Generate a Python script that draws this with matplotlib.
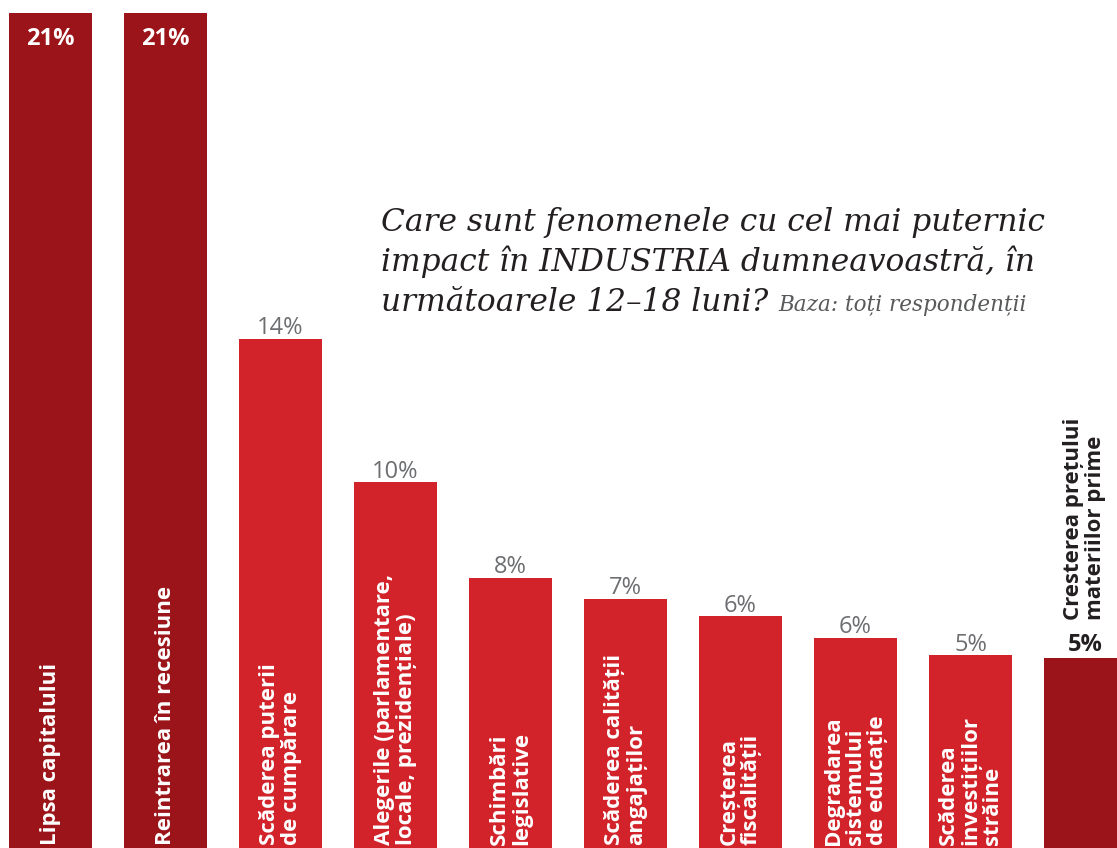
import matplotlib
matplotlib.use('Agg')
import matplotlib.pyplot as plt

# categories (bar labels), shown percentages, bar heights
labels = ['Lipsa capitalului',
          'Reintrarea în recesiune',
          'Scăderea puterii\nde cumpărare',
          'Alegerile (parlamentare,\nlocale, prezidențiale)',
          'Schimbări\nlegislative',
          'Scăderea calității\nangajaților',
          'Creșterea\nfiscalității',
          'Degradarea\nsistemului\nde educație',
          'Scăderea\ninvestițiilor\nstrăine',
          'Cresterea prețului\nmateriilor prime']
shares = [21, 21, 14, 10, 8, 7, 6, 6, 5, 5]
heights = [21, 21, 12.8, 9.2, 6.8, 6.26, 5.83, 5.28, 4.85, 4.78]
dark = [True, True, False, False, False, False, False, False, False, True]

DARK_RED = '#9b1419'
RED = '#d2232a'
GREY = '#6d6e71'
INK = '#231f20'

fig = plt.figure(figsize=(11.17, 8.48), dpi=100)
ax = fig.add_axes([0, 0, 1, 1])
ax.set_xlim(-0.439, 9.274)
ax.set_ylim(0, 21 * 848 / 835)
ax.axis('off')

x = list(range(len(shares)))
cols = [DARK_RED if d else RED for d in dark]
ax.bar(x, heights, width=0.72, color=cols, align='center')

for i in x:
    # category label inside the bar, reading bottom to top
    if i == 9:
        ax.annotate(labels[i], (i, heights[i]), xytext=(-1, 27), textcoords='offset points',
                    rotation=90, ha='center', va='bottom', multialignment='left',
                    fontsize=16, fontweight='bold', color=INK, family='Open Sans',
                    linespacing=1.05)
    else:
        ax.annotate(labels[i], (i, 0), xytext=(0, 2), textcoords='offset points',
                    rotation=90, ha='center', va='bottom', multialignment='left',
                    fontsize=16, fontweight='bold', color='white', family='Open Sans',
                    linespacing=1.05)
    # value label
    txt = f'{shares[i]}%'
    if i < 2:
        ax.annotate(txt, (i, heights[i]), xytext=(0, -10), textcoords='offset points',
                    ha='center', va='top', fontsize=17, fontweight='bold',
                    color='white', family='Open Sans')
    elif i == 9:
        ax.annotate(txt, (i, heights[i]), xytext=(0, 1), textcoords='offset points',
                    ha='center', va='bottom', fontsize=17, fontweight='bold',
                    color=INK, family='Open Sans')
    else:
        ax.annotate(txt, (i, heights[i]), xytext=(0, -1), textcoords='offset points',
                    ha='center', va='bottom', fontsize=17,
                    color=GREY, family='Open Sans')

# title block
title_lines = ['Care sunt fenomenele cu cel mai puternic',
               'impact în INDUSTRIA dumneavoastră, în',
               'următoarele 12–18 luni?']
baselines = [231, 271, 311]
for line, b in zip(title_lines, baselines):
    fig.text(381 / 1117, 1 - b / 848, line, ha='left', va='baseline', fontsize=22.5,
             style='italic', color=INK, family='DejaVu Serif')
fig.text(778 / 1117, 1 - 311 / 848, 'Baza: toți respondenții',
         ha='left', va='baseline', fontsize=15.5, style='italic', color='#58595b',
         family='DejaVu Serif')

fig.savefig('out.png', dpi=100)
